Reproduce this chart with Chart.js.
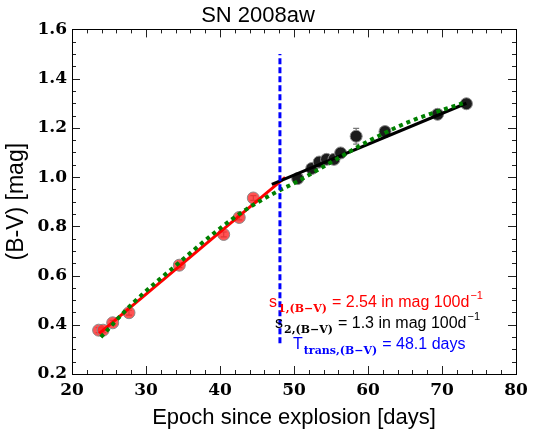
<!DOCTYPE html>
<html>
<head>
<meta charset="utf-8">
<script src="https://cdn.jsdelivr.net/npm/chart.js@4.4.1/dist/chart.umd.min.js"></script>
<style>
    html, body { margin: 0; padding: 0; background: #fff; }
</style>
</head>
<body>
<canvas id="colorChart" width="537" height="439"></canvas>
<script>
// B-V colour of SN 2008aw
const earlyDays = [23.6, 24.2, 25.5, 27.7, 34.5, 40.5, 42.6, 44.5];
const earlyColor = [0.378, 0.378, 0.408, 0.449, 0.642, 0.767, 0.836, 0.915];
const earlyErr = [0.01, 0.01, 0.01, 0.01, 0.01, 0.01, 0.01, 0.01];

const lateDays = [50.5, 52.4, 53.4, 54.4, 55.4, 56.3, 58.4, 62.3, 69.4, 73.3];
const lateColor = [0.994, 1.035, 1.061, 1.072, 1.072, 1.098, 1.166, 1.185, 1.255, 1.298];
const lateErr = [0.01, 0.01, 0.01, 0.01, 0.01, 0.012, 0.032, 0.012, 0.01, 0.01];

// fitted lines
const fit1Days = [23.7, 48.8];
const fit1Color = [0.365, 0.999];
const fit2Days = [47.0, 73.3];
const fit2Color = [0.970, 1.300];
const smoothDays = [23.9, 28.3, 34.0, 39.5, 43.6, 48.1, 50.0, 55.0, 60.3, 66.0, 72.8];
const smoothColor = [0.35, 0.49, 0.64, 0.78, 0.87, 0.947, 0.975, 1.06, 1.15, 1.23, 1.30];
const transDay = 48.1;
const transRange = [0.325, 1.50];

const xTicks = [20, 30, 40, 50, 60, 70, 80];
const yTicks = [0.2, 0.4, 0.6, 0.8, 1.0, 1.2, 1.4, 1.6];

const toPoints = (xs, ys) => xs.map((x, i) => ({ x: x, y: ys[i] }));

const tickFont = { family: 'DejaVu Serif', size: 17, weight: 'bold' };
const labelFont = { family: 'Liberation Sans', size: 22 };

// gray error bars under the markers
const errorBars = {
    id: 'errorBars',
    beforeDatasetsDraw(chart) {
        const ctx = chart.ctx;
        const xs = chart.scales.x, ys = chart.scales.y;
        const sets = [[earlyDays, earlyColor, earlyErr], [lateDays, lateColor, lateErr]];
        ctx.save();
        ctx.strokeStyle = '#777';
        ctx.lineWidth = 1.2;
        sets.forEach(([dx, dy, de]) => {
            dx.forEach((d, i) => {
                const px = xs.getPixelForValue(d);
                const top = ys.getPixelForValue(dy[i] + de[i]);
                const bot = ys.getPixelForValue(dy[i] - de[i]);
                ctx.beginPath();
                ctx.moveTo(px, top); ctx.lineTo(px, bot);
                ctx.moveTo(px - 3, top); ctx.lineTo(px + 3, top);
                ctx.moveTo(px - 3, bot); ctx.lineTo(px + 3, bot);
                ctx.stroke();
            });
        });
        ctx.restore();
    }
};

function drawLabel(ctx, x, y, color, base, sub, rest, sup) {
    ctx.fillStyle = color;
    ctx.textAlign = 'left';
    ctx.textBaseline = 'alphabetic';
    ctx.font = '16px "Liberation Sans"';
    ctx.fillText(base, x, y);
    x += ctx.measureText(base).width + 1;
    ctx.font = 'bold 11px "DejaVu Serif"';
    ctx.fillText(sub, x, y + 5);
    x += ctx.measureText(sub).width + 5;
    ctx.font = '16px "Liberation Sans"';
    ctx.fillText(rest, x, y);
    x += ctx.measureText(rest).width + 1;
    if (sup) {
        ctx.font = '11px "Liberation Sans"';
        ctx.fillText(sup, x, y - 8);
    }
}

// box, inward ticks on all sides, and the fit text
const frame = {
    id: 'frame',
    afterDraw(chart) {
        const ctx = chart.ctx;
        const { left, right, top, bottom } = chart.chartArea;
        const xs = chart.scales.x, ys = chart.scales.y;
        ctx.save();
        ctx.strokeStyle = '#222';
        ctx.lineWidth = 1;
        for (let v = 20; v <= 80.001; v += 2) {
            const px = Math.round(xs.getPixelForValue(v)) + 0.5;
            const len = Math.abs(v % 10) < 0.01 ? 8 : 4;
            ctx.beginPath();
            ctx.moveTo(px, bottom); ctx.lineTo(px, bottom - len);
            ctx.moveTo(px, top); ctx.lineTo(px, top + len);
            ctx.stroke();
        }
        for (let i = 0; i <= 28; i++) {
            const v = 0.2 + i * 0.05;
            const py = Math.round(ys.getPixelForValue(v)) + 0.5;
            const len = i % 4 === 0 ? 8 : 4;
            ctx.beginPath();
            ctx.moveTo(left, py); ctx.lineTo(left + len, py);
            ctx.moveTo(right, py); ctx.lineTo(right - len, py);
            ctx.stroke();
        }
        ctx.strokeStyle = '#000';
        ctx.strokeRect(Math.round(left) + 0.5, Math.round(top) + 0.5, Math.round(right - left), Math.round(bottom - top));

        drawLabel(ctx, 269, 307, '#ff0000', 's', '1,(B\u2212V)', '= 2.54 in mag 100d', '\u22121');
        drawLabel(ctx, 275, 328, '#000000', 's', '2,(B\u2212V)', '= 1.3 in mag 100d', '\u22121');
        drawLabel(ctx, 293, 349, '#0000ff', 'T', 'trans,(B\u2212V)', '= 48.1 days', '');
        ctx.restore();
    }
};

const ctx = document.getElementById('colorChart').getContext('2d');
new Chart(ctx, {
    type: 'scatter',
    data: {
        datasets: [
            {
                data: toPoints(earlyDays, earlyColor),
                backgroundColor: 'rgba(255, 40, 40, 0.8)',
                borderColor: '#8a8a8a',
                borderWidth: 1,
                pointRadius: 6,
                order: 6
            },
            {
                data: toPoints(lateDays, lateColor),
                backgroundColor: '#1c1c1c',
                borderColor: '#8a8a8a',
                borderWidth: 1,
                pointRadius: 6,
                order: 5
            },
            {
                data: toPoints(fit1Days, fit1Color),
                showLine: true,
                borderColor: '#ff0000',
                borderWidth: 3,
                pointRadius: 0,
                order: 4
            },
            {
                data: toPoints(fit2Days, fit2Color),
                showLine: true,
                borderColor: '#000000',
                borderWidth: 3,
                pointRadius: 0,
                order: 3
            },
            {
                data: toPoints(smoothDays, smoothColor),
                showLine: true,
                borderColor: '#008000',
                borderWidth: 4,
                borderDash: [4, 4],
                cubicInterpolationMode: 'monotone',
                pointRadius: 0,
                order: 2
            },
            {
                data: toPoints([transDay, transDay], transRange),
                showLine: true,
                borderColor: '#0000ff',
                borderWidth: 3,
                borderDash: [6, 3],
                pointRadius: 0,
                order: 1
            }
        ]
    },
    options: {
        responsive: false,
        animation: false,
        layout: { padding: { left: 0, right: 21, top: 0, bottom: 0 } },
        plugins: {
            legend: { display: false },
            tooltip: { enabled: false },
            title: {
                display: true,
                text: 'SN 2008aw',
                color: '#000',
                font: { family: 'Liberation Sans', size: 22, weight: 'normal' },
                padding: { top: 3, bottom: 0 }
            }
        },
        scales: {
            x: {
                type: 'linear',
                min: 20,
                max: 80,
                afterBuildTicks: s => { s.ticks = xTicks.map(v => ({ value: v })); },
                afterFit: s => { s.height = 65; },
                ticks: { font: tickFont, color: '#000', padding: 6 },
                grid: { drawOnChartArea: false, drawTicks: false },
                border: { color: '#000' },
                title: {
                    display: true,
                    text: 'Epoch since explosion [days]',
                    color: '#000',
                    font: labelFont,
                    padding: { top: 0, bottom: 8 }
                }
            },
            y: {
                type: 'linear',
                min: 0.2,
                max: 1.6,
                afterBuildTicks: s => { s.ticks = yTicks.map(v => ({ value: v })); },
                afterFit: s => { s.width = 72; },
                ticks: { font: tickFont, color: '#000', padding: 5, callback: v => v.toFixed(1) },
                grid: { drawOnChartArea: false, drawTicks: false },
                border: { color: '#000' },
                title: {
                    display: true,
                    text: '(B-V) [mag]',
                    color: '#000',
                    font: { family: 'Liberation Sans', size: 23 },
                    padding: { top: 3, bottom: 0 }
                }
            }
        }
    },
    plugins: [errorBars, frame]
});
</script>
</body>
</html>
